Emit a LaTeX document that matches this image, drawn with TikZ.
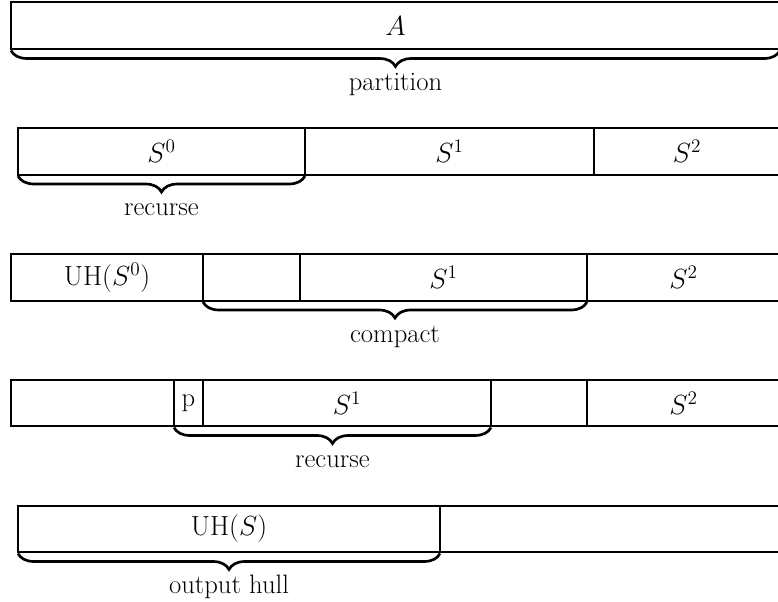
\documentclass[tikz,border=0pt]{standalone}
\usetikzlibrary{positioning}
\usetikzlibrary{decorations.pathreplacing}

\tikzset{
  cell/.style={draw, line width=1.5pt, inner sep=0pt, outer sep=0pt, minimum height=35pt, font=\fontsize{20}{24}\selectfont},
  brc/.style={decorate, decoration={brace, mirror, amplitude=12pt, raise=1pt}, line width=2pt},
  lbl/.style={midway, anchor=base, yshift=-31pt, font=\fontsize{20}{24}\selectfont}
}

\begin{document}
\begin{tikzpicture}[x=0.75pt,y=0.75pt,yscale=-1,xscale=1]
\useasboundingbox (0,0) rectangle (778,602);
\clip (0,0) rectangle (778,602);

% Row A
\node[cell, minimum width=576.75pt, anchor=north west] (a) at (11,2.5) {$A$};
\draw[brc] (a.south west) -- (a.south east) node[lbl] {partition};

% Row S^0 S^1 S^2
\node[cell, minimum width=215.25pt, anchor=north west] (s0) at (18,128) {$S^0$};
\node[cell, minimum width=216.75pt, right=0pt of s0] (s1) {$S^1$};
\node[cell, minimum width=139.5pt, right=0pt of s1] (s2) {$S^2$};
\draw[brc] (s0.south west) -- (s0.south east) node[lbl] {recurse};

% Row UH(S^0)
\node[cell, minimum width=144pt, anchor=north west] (u0) at (11,254) {$\mathrm{UH}(S^0)$};
\node[cell, minimum width=72.75pt, right=0pt of u0] (c0) {};
\node[cell, minimum width=215.25pt, right=0pt of c0] (c1) {$S^1$};
\node[cell, minimum width=144.75pt, right=0pt of c1] (c2) {$S^2$};
\draw[brc] (c0.south west) -- (c1.south east) node[lbl] {compact};

% Row p S^1
\node[cell, minimum width=122.25pt, anchor=north west] (q0) at (11,379.5) {};
\node[cell, minimum width=21.75pt, right=0pt of q0] (qp) {p};
\node[cell, minimum width=216pt, right=0pt of qp] (q1) {$S^1$};
\node[cell, minimum width=72pt, right=0pt of q1] (q2) {};
\node[cell, minimum width=144.75pt, right=0pt of q2] (q3) {$S^2$};
\draw[brc] (qp.south west) -- (q1.south east) node[lbl] {recurse};

% Row UH(S)
\node[cell, minimum width=316.5pt, anchor=north west] (h0) at (18,505.5) {$\mathrm{UH}(S)$};
\node[cell, minimum width=255pt, right=0pt of h0] (h1) {};
\draw[brc] (h0.south west) -- (h0.south east) node[lbl] {output hull};

\end{tikzpicture}
\end{document}
